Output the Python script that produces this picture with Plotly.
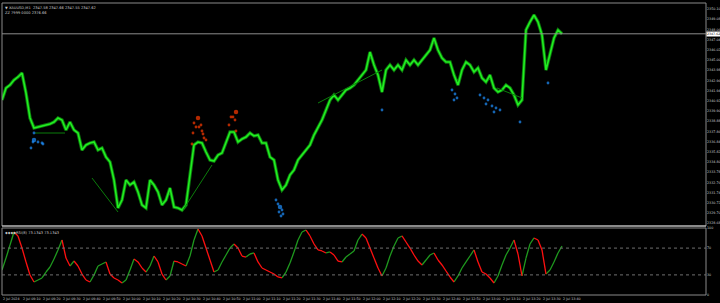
import plotly.graph_objects as go

# ---------------- data ----------------
bar_index = list(range(141))

close = [
    2341.0, 2342.2, 2342.5, 2343.0, 2343.3, 2343.7, 2341.7, 2339.2, 2338.2, 2338.3,
    2338.4, 2338.5, 2338.6, 2338.8, 2339.2, 2339.0, 2338.0, 2338.8, 2338.0, 2337.7,
    2336.0, 2336.5, 2336.7, 2336.8, 2336.0, 2336.2, 2335.3, 2334.8, 2333.0, 2330.2,
    2331.0, 2333.0, 2332.5, 2332.8, 2331.8, 2330.5, 2330.2, 2333.0, 2332.5, 2331.8,
    2330.5, 2331.0, 2332.2, 2330.3, 2330.2, 2330.0, 2330.5, 2333.5, 2336.5, 2336.8,
    2336.7, 2335.8, 2335.0, 2334.9, 2335.5, 2335.7, 2336.7, 2337.8, 2337.8, 2336.8,
    2337.1, 2337.3, 2337.7, 2337.4, 2337.5, 2336.7, 2336.7, 2335.3,
    2335.0, 2333.0, 2332.0, 2332.5, 2333.5, 2334.0, 2335.0, 2335.5, 2336.0, 2336.5,
    2337.5, 2338.2, 2339.0, 2340.0, 2341.0, 2341.5, 2341.0, 2341.5, 2342.0, 2342.2,
    2342.5, 2343.0, 2343.5, 2344.0, 2345.8, 2344.5, 2343.5, 2341.8, 2344.0, 2344.5,
    2344.0, 2344.5, 2344.0, 2345.0, 2344.5, 2345.0, 2344.5, 2345.0, 2345.5, 2346.0,
    2347.2, 2346.0, 2345.2, 2344.8, 2344.8, 2343.5, 2342.5, 2344.0, 2344.8, 2344.5,
    2343.8, 2344.2, 2343.2, 2342.8, 2343.5, 2342.2, 2341.8, 2342.0, 2342.5, 2342.2,
    2341.5, 2340.5, 2341.0, 2348.0, 2348.8, 2349.5, 2348.8, 2347.5, 2344.0, 2345.5,
    2347.2, 2348.0, 2347.62,
]

osc = [
    37.3, 55.2, 74.6, 94.0, 88.1, 70.1, 49.3, 29.9, 19.4, 22.4,
    25.4, 34.3, 41.8, 53.7, 67.2, 82.1, 55.2, 43.3, 50.7, 43.3,
    31.3, 22.4, 19.4, 29.9, 43.3, 46.3, 49.3, 31.3, 25.4, 22.4,
    17.9, 22.4, 37.3, 53.7, 49.3, 40.3, 34.3, 43.3, 58.2, 49.3,
    31.3, 22.4, 28.4, 50.7, 49.3, 46.3, 43.3, 58.2, 82.1, 98.5,
    88.1, 70.1, 52.2, 34.3, 37.3, 49.3, 59.7, 70.1, 76.1, 70.1,
    58.2, 56.7, 61.2, 62.7, 49.3, 40.3, 37.3, 34.3, 31.3, 26.9,
    25.4, 34.3, 47.8, 64.2, 82.1, 94.0, 97.0, 88.1, 76.1, 67.2,
    65.7, 62.7, 64.2, 59.7, 50.7, 49.3, 56.7, 61.2, 65.7, 82.1,
    91.0, 85.1, 70.1, 55.2, 40.3, 28.4, 40.3, 58.2, 73.1, 85.1,
    88.1, 79.1, 70.1, 59.7, 50.7, 44.8, 52.2, 59.7, 62.7, 52.2,
    44.8, 35.8, 26.9, 19.4, 28.4, 40.3, 49.3, 58.2, 67.2, 49.3,
    34.3, 31.3, 25.4, 17.9, 28.4, 44.8, 59.7, 70.1, 82.1, 61.2,
    28.4, 55.2, 76.1, 85.1, 82.1, 67.2, 31.3, 37.3, 49.3, 62.7,
    73.1,
]

# fractal-like dots
blue_idx = [8, 7.75, 8, 9, 10, 10.25, 7.25,
            68.5, 69, 69.5, 70, 69.25, 70.25, 69.75,
            95,
            112.5, 113.25, 113.75, 113,
            119.5, 120.5, 121.5, 121, 122.5, 123.5, 124.5, 123,
            129.5, 136.5]
blue_price = [2337.7, 2336.8, 2337.0, 2336.8, 2336.7, 2336.6, 2336.2,
              2331.0, 2330.6, 2330.3, 2330.0, 2329.8, 2329.6, 2329.4,
              2340.0,
              2342.0, 2341.6, 2341.2, 2341.0,
              2341.5, 2341.2, 2341.0, 2340.6, 2340.4, 2340.2, 2340.0, 2339.8,
              2338.8, 2342.7]
blue_big = [2, 9]

red_idx = [49, 48, 48.5, 49.25, 49.75, 50, 47.75, 50.25, 50.5, 51, 47.5,
           58.5, 57.25, 57.75, 58.25, 56.75, 58.5]
red_price = [2339.2, 2338.7, 2338.3, 2338.3, 2338.5, 2337.9, 2337.7, 2337.6, 2337.2, 2337.0, 2336.6,
             2339.8, 2339.3, 2339.3, 2339.0, 2338.5, 2337.9]
red_big = [0, 11]

# zigzag segments (start/end bar index and price)
zz_x = [[8.25, 15.75], [22.5, 29], [45.25, 52.5], [79, 95], [123.75, 130]]
zz_y = [[2337.7, 2337.7], [2333.2, 2329.8], [2330.0, 2334.5], [2340.7, 2344.0], [2342.2, 2341.2]]

last_price = 2347.62

price_ticks = [2350.10, 2349.08, 2348.06, 2347.04, 2346.02, 2345.00, 2343.98, 2342.96,
               2341.94, 2340.92, 2339.90, 2338.88, 2337.86, 2336.84, 2335.82, 2334.80,
               2333.78, 2332.76, 2331.74, 2330.72, 2329.70, 2328.68]
osc_ticks = [100, 70, 30, 0]
osc_levels = [70, 30]

time_tick_idx = list(range(0, 141, 5))
time_labels = ["2 Jul 2024"] + [
    "2 Jul %02d:%02d" % divmod(9 * 60 + 10 * k, 60) for k in range(1, 29)
]

# ---------------- figure ----------------
fig = go.Figure()

# price series (dark edge + bright bars)
fig.add_trace(go.Scatter(x=bar_index, y=close, mode="lines",
                         line=dict(color="#0c7a0c", width=3.4), yaxis="y",
                         hoverinfo="skip"))
fig.add_trace(go.Scatter(x=bar_index, y=close, mode="lines",
                         line=dict(color="#22ee22", width=1.6), yaxis="y",
                         hoverinfo="skip"))

# zigzag
for xs, ys in zip(zz_x, zz_y):
    fig.add_trace(go.Scatter(x=xs, y=ys, mode="lines",
                             line=dict(color="#0b7d0b", width=1), yaxis="y",
                             hoverinfo="skip"))

# dots
fig.add_trace(go.Scatter(x=blue_idx, y=blue_price, mode="markers",
                         marker=dict(color="#1e90ff",
                                     size=[4.5 if i in blue_big else 2.8 for i in range(len(blue_idx))],
                                     line=dict(width=0)),
                         yaxis="y", hoverinfo="skip"))
fig.add_trace(go.Scatter(x=red_idx, y=red_price, mode="markers",
                         marker=dict(color="#ff3a00",
                                     size=[4.5 if i in red_big else 2.8 for i in range(len(red_idx))],
                                     line=dict(width=0)),
                         yaxis="y", hoverinfo="skip"))

# oscillator, coloured by direction
gx, gy, rx, ry = [], [], [], []
for i in range(len(osc) - 1):
    seg_x = [bar_index[i], bar_index[i + 1], None]
    seg_y = [osc[i], osc[i + 1], None]
    if osc[i + 1] >= osc[i]:
        gx += seg_x; gy += seg_y
    else:
        rx += seg_x; ry += seg_y
fig.add_trace(go.Scatter(x=gx, y=gy, mode="lines", line=dict(color="#1f9a1f", width=1.3),
                         yaxis="y2", hoverinfo="skip"))
fig.add_trace(go.Scatter(x=rx, y=ry, mode="lines", line=dict(color="#ff1010", width=1.3),
                         yaxis="y2", hoverinfo="skip"))

main_dom = [0.2363, 1.0]
osc_dom = [0.0, 0.22945]

shapes = [
    dict(type="rect", xref="paper", yref="paper", x0=0, x1=1, y0=main_dom[0], y1=main_dom[1],
         line=dict(color="#8a8a8a", width=1)),
    dict(type="line", xref="paper", yref="paper", x0=0, x1=1, y0=main_dom[0], y1=main_dom[0],
         line=dict(color="#d0d0d0", width=1)),
    dict(type="rect", xref="paper", yref="paper", x0=0, x1=1, y0=osc_dom[0], y1=osc_dom[1],
         line=dict(color="#8a8a8a", width=1)),
    dict(type="line", xref="paper", yref="y", x0=0, x1=1, y0=last_price, y1=last_price,
         line=dict(color="#8c8c8c", width=1)),
]
for lv in osc_levels:
    shapes.append(dict(type="line", xref="paper", yref="y2", x0=0, x1=1, y0=lv, y1=lv,
                       line=dict(color="#707070", width=1, dash="dot")))

small = dict(size=3.6, color="#c8c8c8", family="DejaVu Sans")
annotations = [
    dict(xref="paper", yref="paper", x=0.002, y=0.997, xanchor="left", yanchor="top",
         text="\u25bc XAUUSD,M1  2347.58 2347.66 2347.55 2347.62", showarrow=False, font=small),
    dict(xref="paper", yref="paper", x=0.002, y=0.978, xanchor="left", yanchor="top",
         text="ZZ 7999 0000 2376.66", showarrow=False, font=small),
    dict(xref="paper", yref="paper", x=0.002, y=0.225, xanchor="left", yanchor="top",
         text="\u25c6\u25c6\u25c6\u25c6RSI(8) 73.1343 73.1343", showarrow=False, font=small),
    dict(xref="paper", yref="y", x=1.0, y=last_price, xanchor="left", yanchor="middle",
         text="%.2f" % last_price, showarrow=False, bgcolor="#ffffff",
         borderpad=0, font=dict(size=3.2, color="#000000", family="DejaVu Sans")),
]
axis_font = dict(size=3.3, color="#c8c8c8", family="DejaVu Sans")
# time labels placed just under the lower panel
for tv, tt in zip(time_tick_idx, time_labels):
    annotations.append(dict(xref="x", yref="paper", x=tv, y=0, xanchor="left", yanchor="top",
                            yshift=-1, text=tt, showarrow=False, font=axis_font,
                            borderpad=0))

fig.update_layout(
    width=720, height=303,
    margin=dict(l=2, r=14, t=3, b=8, pad=0),
    paper_bgcolor="#000000", plot_bgcolor="#000000",
    showlegend=False,
    xaxis=dict(range=[0, 176], anchor="y2", showgrid=False, zeroline=False, showline=False,
               showticklabels=False, ticks="", automargin=False, fixedrange=True),
    yaxis=dict(domain=main_dom, range=[2328.4, 2350.7], side="right", showgrid=False,
               zeroline=False, showline=False, tickvals=price_ticks,
               ticktext=["%.2f" % v for v in price_ticks], ticks="",
               tickfont=axis_font, automargin=False, ticklabelstandoff=0, fixedrange=True),
    yaxis2=dict(domain=osc_dom, range=[0, 100], side="right", anchor="x", showgrid=False,
                zeroline=False, showline=False, tickvals=osc_ticks,
                ticktext=[str(v) for v in osc_ticks], ticks="",
                tickfont=axis_font, automargin=False, ticklabelstandoff=0, fixedrange=True),
    shapes=shapes, annotations=annotations,
)

fig.write_html("out.html", config={"displayModeBar": False})
